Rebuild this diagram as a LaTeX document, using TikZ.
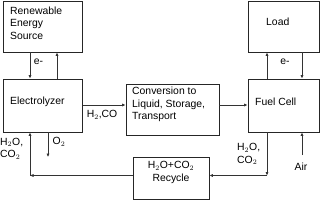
\documentclass[tikz,border=0pt]{standalone}
\usepackage{fontspec}
\setmainfont{Liberation Sans}
\usetikzlibrary{arrows.meta}
\begin{document}
\begin{tikzpicture}[x=1pt,y=-1pt,
  box/.style={draw=black!85,line width=0.8pt,rectangle,inner sep=0pt},
  txt/.style={inner sep=0pt,font=\fontsize{10.4}{12.3}\selectfont,align=left},
  arr/.style={draw=black!80,line width=0.8pt,-{Latex[length=3.5pt,width=3.2pt]}},
  ln/.style={draw=black!80,line width=0.8pt}]
\useasboundingbox (0,0) rectangle (320,200);
% boxes
\node[box,minimum width=79pt,minimum height=51pt] (ren) at (43,26.5) {};
\node[box,minimum width=71pt,minimum height=51pt] (load) at (283.5,26.5) {};
\node[box,minimum width=79pt,minimum height=53pt] (elec) at (43,105.5) {};
\node[box,minimum width=71pt,minimum height=53pt] (fc) at (283.5,105.5) {};
\node[box,minimum width=93pt,minimum height=51pt] (conv) at (172.5,109.5) {};
\node[box,minimum width=76pt,minimum height=42pt] (rec) at (171,178) {};
% texts
\node[txt,anchor=west] (rent) at (10,23) {Renewable\\Energy\\Source};
\node[txt,anchor=west] (elect) at (10,102) {Electrolyzer};
\node[txt,anchor=west] (loadt) at (266,22) {Load};
\node[txt,anchor=west] (fct) at (255,102) {Fuel Cell};
\node[txt,anchor=west] (convt) at (132,104.5) {Conversion to\\Liquid, Storage,\\Transport};
\node[txt,align=center] (rect) at (171,172.5) {H$_2$O+CO$_2$\\Recycle};
\node[txt] (e1) at (38.5,62) {e-};
\node[txt] (e2) at (285,62) {e-};
\node[txt] (h2co) at (102,115) {H$_2$,CO};
\node[txt] (o2) at (59,142) {O$_2$};
\node[txt,anchor=west] (wl) at (0,148.5) {H$_2$O,\\CO$_2$};
\node[txt,anchor=west] (wr) at (237,154) {H$_2$O,\\CO$_2$};
\node[txt] (air) at (301,167) {Air};
% coordinates
\coordinate (rd) at (267,175.5);
\coordinate (ld) at (30,175.5);
\coordinate (o2e) at (48,157);
\coordinate (airs) at (302,155);
% connectors
\draw[arr] (ren.south -| 30,0) -- (elec.north -| 30,0);
\draw[arr] (elec.north -| 57,0) -- (ren.south -| 57,0);
\draw[arr] (fc.north -| 267,0) -- (load.south -| 267,0);
\draw[arr] (load.south -| 302,0) -- (fc.north -| 302,0);
\draw[arr] (elec.east |- 0,105) -- (conv.west |- 0,105);
\draw[arr] (conv.east |- 0,105) -- (fc.west |- 0,105);
\draw[arr] (elec.south -| o2e) -- (o2e);
\draw[arr] (airs) -- (fc.south -| airs);
\draw[arr] (fc.south -| rd) -- (rd);
\draw[arr] (rd) -- (rec.east |- rd);
\draw[arr] (rec.west |- ld) -- (ld);
\draw[arr] (ld) -- (elec.south -| ld);
\end{tikzpicture}
\end{document}
